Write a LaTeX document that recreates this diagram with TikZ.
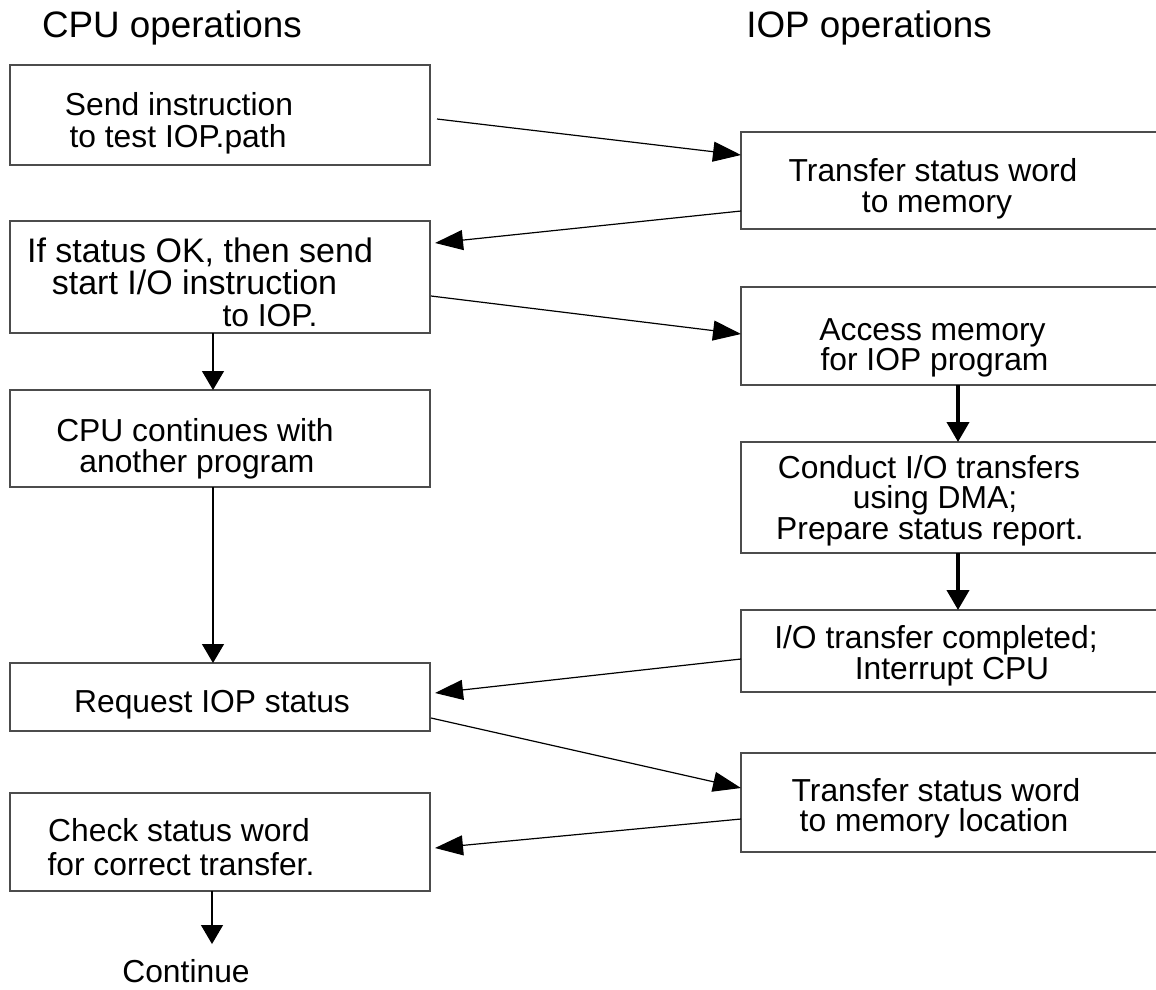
\documentclass[tikz,border=0pt]{standalone}
\usepackage{fontspec}
\setmainfont{Liberation Sans}
\usetikzlibrary{arrows.meta,calc}
\begin{document}
\begin{tikzpicture}[x=1pt,y=-1pt,
  box/.style={draw=black!70,line width=1.2pt,inner sep=0pt,outer sep=0pt,rectangle},
  lbox/.style={box,minimum width=420pt},
  rboxn/.style={draw=none,inner sep=0pt,outer sep=0pt,rectangle,minimum width=440pt,anchor=north west},
  side/.style={draw=black!70,line width=1.2pt},
  txt/.style={inner sep=0pt,anchor=base,font=\fontsize{31.8}{32}\selectfont},
  txtb/.style={inner sep=0pt,anchor=base,font=\fontsize{34}{34}\selectfont},
  ttl/.style={inner sep=0pt,anchor=base,font=\fontsize{36.8}{38}\selectfont},
  conn/.style={draw,line width=1.2pt,-{Triangle[length=28pt,width=20pt]}},
  vconn/.style={draw,line width=1.2pt,-{Triangle[length=19pt,width=22pt]}},
  tconn/.style={draw,line width=4pt,-{Triangle[length=20pt,width=22pt]}}]
\useasboundingbox (0,0) rectangle (1156,989);
\clip (0,0) rectangle (1156,989);
\fill[white] (0,0) rectangle (1156,989);
% titles
\node[ttl] (tcpu) at (172,37) {CPU operations};
\node[ttl] (tiop) at (869,37) {IOP operations};
% left boxes
\node[lbox,minimum height=100pt] (b1) at (220,115) {};
\node[lbox,minimum height=112pt] (b2) at (220,277) {};
\node[lbox,minimum height=97pt] (b3) at (220,438.5) {};
\node[lbox,minimum height=68pt] (b4) at (220,697) {};
\node[lbox,minimum height=98pt] (b5) at (220,842) {};
% right boxes (open to the right)
\node[rboxn,minimum height=97pt] (ra) at (741,132) {};
\node[rboxn,minimum height=98pt] (rb) at (741,287) {};
\node[rboxn,minimum height=111pt] (rc) at (741,442) {};
\node[rboxn,minimum height=82pt] (rd) at (741,610) {};
\node[rboxn,minimum height=99pt] (re) at (741,753) {};
\foreach \r in {ra,rb,rc,rd,re}{
  \draw[side] (\r.north east) -- (\r.north west) -- (\r.south west) -- (\r.south east);
}
% texts
\node[txt] (t1a) at (179,115) {Send instruction};
\node[txt] (t1b) at (178,147) {to test IOP.path};
\node[txtb] (t2a) at (200,262) {If status OK, then send};
\node[txtb] (t2b) at (194.5,294) {start I/O instruction};
\node[txt] (t2c) at (270,326) {to IOP.};
\node[txt] (t3a) at (195,441) {CPU continues with};
\node[txt] (t3b) at (197,472) {another program};
\node[txt] (t4a) at (212,712) {Request IOP status};
\node[txt] (t5a) at (179,841) {Check status word};
\node[txt] (t5b) at (181,875) {for correct transfer.};
\node[txt] (cont) at (186,982) {Continue};
\node[txt] (tAa) at (933,181) {Transfer status word};
\node[txt] (tAb) at (937,212) {to memory};
\node[txt] (tBa) at (932.5,340) {Access memory};
\node[txt] (tBb) at (934.5,370) {for IOP program};
\node[txt] (tCa) at (929,478) {Conduct I/O transfers};
\node[txt] (tCb) at (935,508) {using DMA;};
\node[txt] (tCc) at (930,539) {Prepare status report.};
\node[txt] (tDa) at (936,648) {I/O transfer completed;};
\node[txt] (tDb) at (952,679) {Interrupt CPU};
\node[txt] (tEa) at (936,801) {Transfer status word};
\node[txt] (tEb) at (934,831) {to memory location};
% connectors
\draw[conn] ([shift={(7,4)}]b1.east) -- ([shift={(0,-25.5)}]ra.west);
\draw[conn] ([shift={(0,30.5)}]ra.west) -- ([shift={(5,-34)}]b2.east);
\draw[conn] ([shift={(1,19)}]b2.east) -- ([shift={(0,-2)}]rb.west);
\draw[vconn] ([shift={(-7,0)}]b2.south) -- ([shift={(-7,0)}]b3.north);
\draw[vconn] ([shift={(-7,0)}]b3.south) -- ([shift={(-7,0)}]b4.north);
\draw[tconn] ([shift={(217,0)}]rb.south west) -- ([shift={(217,0)}]rc.north west);
\draw[tconn] ([shift={(217,0)}]rc.south west) -- ([shift={(217,0)}]rd.north west);
\draw[conn] ([shift={(0,8)}]rd.west) -- ([shift={(5,-4)}]b4.east);
\draw[conn] ([shift={(1,21)}]b4.east) -- ([shift={(0,-14.5)}]re.west);
\draw[conn] ([shift={(0,16.5)}]re.west) -- ([shift={(5,6)}]b5.east);
\coordinate (contin) at (212,944);
\draw[vconn] ([shift={(-8,0)}]b5.south) -- (contin);
\end{tikzpicture}
\end{document}
